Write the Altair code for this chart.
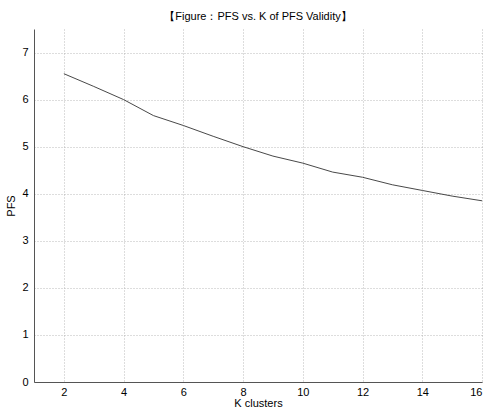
import altair as alt
import pandas as pd

k_values = [2, 3, 4, 5, 6, 7, 8, 9, 10, 11, 12, 13, 14, 15, 16]
pfs_values = [6.55, 6.28, 6.0, 5.66, 5.45, 5.22, 5.0, 4.8, 4.65, 4.46, 4.35, 4.19, 4.07, 3.95, 3.85]
x_ticks = [2, 4, 6, 8, 10, 12, 14, 16]
y_ticks = [0, 1, 2, 3, 4, 5, 6, 7]

df = pd.DataFrame({"k": k_values, "pfs": pfs_values})

FONT = "Liberation Sans"

line = alt.Chart(df).mark_line(color="#333333", strokeWidth=0.9).encode(
    x=alt.X("k:Q", scale=alt.Scale(domain=[1, 16], nice=False, zero=False),
            axis=alt.Axis(values=x_ticks, title="K clusters", grid=True,
                          gridDash=[1, 2], gridColor="#aaaaaa", gridWidth=0.8,
                          domainColor="#555555", tickSize=0, labelPadding=4,
                          labelFont=FONT, labelFontSize=11, labelColor="#000",
                          titleFont=FONT, titleFontSize=11, titleFontWeight="normal",
                          titleColor="#000", titlePadding=0)),
    y=alt.Y("pfs:Q", scale=alt.Scale(domain=[0, 7.5], nice=False),
            axis=alt.Axis(values=y_ticks, title="PFS", grid=True,
                          gridDash=[1, 2], gridColor="#aaaaaa", gridWidth=0.8,
                          domainColor="#555555", tickSize=0, labelPadding=6,
                          labelFont=FONT, labelFontSize=11, labelColor="#000",
                          titleFont=FONT, titleFontSize=11, titleFontWeight="normal",
                          titleColor="#000", titlePadding=5)),
)

chart = line.properties(
    width=448, height=353,
    autosize=alt.AutoSizeParams(type="none"),
    padding={"left": 34, "top": 29, "right": 4, "bottom": 29},
    title=alt.TitleParams("【Figure：PFS vs. K of PFS Validity】", font=FONT,
                          fontSize=11, fontWeight="normal", color="#000", offset=7),
).configure_view(stroke=None)

chart.save("out.html", embed_options={"renderer": "svg", "actions": False})
